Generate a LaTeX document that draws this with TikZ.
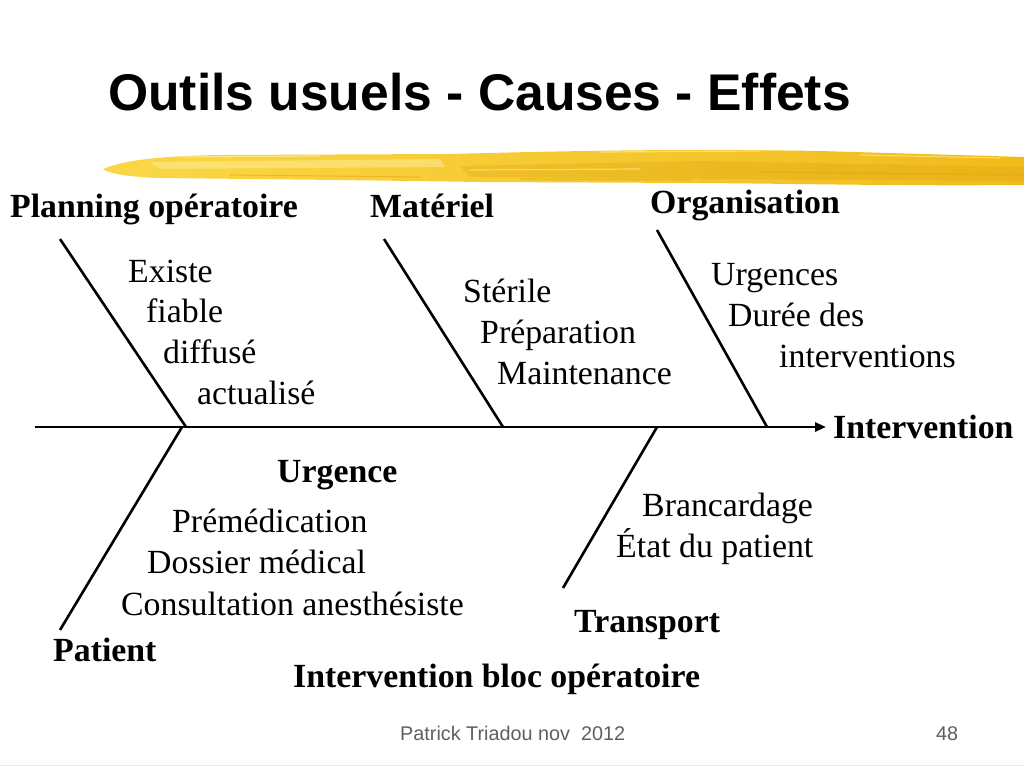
\documentclass[tikz,border=0pt]{standalone}
\usepackage{fontspec}
\setmainfont{Liberation Serif}
\newfontfamily\titlefont{Liberation Sans}
\usetikzlibrary{arrows.meta}
\definecolor{brushA}{RGB}{250,215,70}
\definecolor{brushB}{RGB}{240,188,28}
\definecolor{brushC}{RGB}{226,165,18}
\definecolor{brushL}{RGB}{253,236,150}
\definecolor{footgray}{RGB}{95,95,95}
\tikzset{
  lbl/.style={anchor=base west, inner sep=0pt, font=\fontsize{33.8}{34}\selectfont},
  blbl/.style={lbl, font=\fontsize{33.8}{34}\selectfont\bfseries},
  bone/.style={line width=2.6pt, black},
  spine/.style={line width=2.8pt, black, -{Triangle[length=11pt,width=9pt]}},
  foot/.style={anchor=base west, inner sep=0pt, text=footgray, font=\titlefont\fontsize{19.8}{20}\selectfont},
  streak/.style={line width=1.2pt, line cap=round}
}
\begin{document}
\begin{tikzpicture}[x=1pt,y=-1pt]
\useasboundingbox (0,0) rectangle (1024,768);
\fill[white] (0,0) rectangle (1024,768);

% title
\node[anchor=base west, inner sep=0pt, font=\titlefont\bfseries\fontsize{51.6}{52}\selectfont] (title) at (108,110) {Outils usuels - Causes - Effets};

% brush stroke
\shade[left color=brushA, right color=brushB]
  (103,169) .. controls (125,160) and (160,156) .. (220,155)
  -- (450,154) .. controls (600,150) and (700,149) .. (820,151)
  -- (1024,157) -- (1024,185)
  .. controls (900,186) and (820,184) .. (700,183)
  -- (480,182) .. controls (350,180) and (250,179) .. (160,178)
  .. controls (130,177) and (110,174) .. (103,169) -- cycle;
\fill[brushC, opacity=0.35] (460,166) -- (700,161) -- (1024,167) -- (1024,181) -- (700,179) -- (470,177) -- cycle;
\fill[brushL, opacity=0.55] (150,162) -- (440,159) -- (445,167) -- (160,169) -- cycle;
\draw[streak, brushL, opacity=0.8] (180,157) -- (320,156);
\draw[streak, brushL, opacity=0.7] (600,152) -- (760,151);
\draw[streak, brushL, opacity=0.6] (860,155) -- (1000,158);
\draw[streak, brushC, opacity=0.5] (230,175) -- (420,177);
\draw[streak, brushC, opacity=0.5] (520,179) -- (690,180);
\draw[streak, brushC, opacity=0.6] (760,172) -- (1024,175);
\draw[streak, brushL, opacity=0.6] (470,170) -- (640,169);
\draw[streak, brushA, opacity=0.7] (120,172) -- (200,174);

% spine and bones
\coordinate (s0) at (35,427);
\coordinate (s1) at (826,427);
\draw[spine] (s0) -- (s1);

\coordinate (p1) at (60,239);   \coordinate (p2) at (186,427);
\coordinate (m1) at (384,239);  \coordinate (m2) at (503,427);
\coordinate (o1) at (657,230);  \coordinate (o2) at (767,427);
\coordinate (pa1) at (182,427); \coordinate (pa2) at (60,630);
\coordinate (t1) at (657,427);  \coordinate (t2) at (563,588);
\draw[bone] (p1) -- (p2);
\draw[bone] (m1) -- (m2);
\draw[bone] (o1) -- (o2);
\draw[bone] (pa1) -- (pa2);
\draw[bone] (t1) -- (t2);

% category labels
\node[blbl] (planning) at (10,217) {Planning opératoire};
\node[blbl] (materiel) at (370,217) {Matériel};
\node[blbl] (organisation) at (650,213) {Organisation};
\node[blbl] (effet) at (833,438) {Intervention};
\node[blbl] (urgence) at (277,482) {Urgence};
\node[blbl] (transport) at (574,632) {Transport};
\node[blbl] (patient) at (53,661) {Patient};
\node[blbl] (bloc) at (293,687) {Intervention bloc opératoire};

% causes
\node[lbl] (existe) at (128,282) {Existe};
\node[lbl] (fiable) at (146,322) {fiable};
\node[lbl] (diffuse) at (163,363) {diffusé};
\node[lbl] (actualise) at (197,404) {actualisé};

\node[lbl] (sterile) at (463,302) {Stérile};
\node[lbl] (preparation) at (480,343) {Préparation};
\node[lbl] (maintenance) at (497,384) {Maintenance};

\node[lbl] (urgences) at (711,285) {Urgences};
\node[lbl] (duree) at (728,326) {Durée des};
\node[lbl] (interv) at (779,367) {interventions};

\node[lbl] (premed) at (172,532) {Prémédication};
\node[lbl] (dossier) at (147,573) {Dossier médical};
\node[lbl] (consult) at (121,615) {Consultation anesthésiste};

\node[lbl] (branc) at (642,516) {Brancardage};
\node[lbl] (etat) at (616,557) {État du patient};

% footer
\node[foot] (auteur) at (400,740) {Patrick Triadou nov\ \ 2012};
\node[foot] (page) at (936,740) {48};
\draw[black!8, line width=1pt] (0,765) -- (1024,765);
\end{tikzpicture}
\end{document}
